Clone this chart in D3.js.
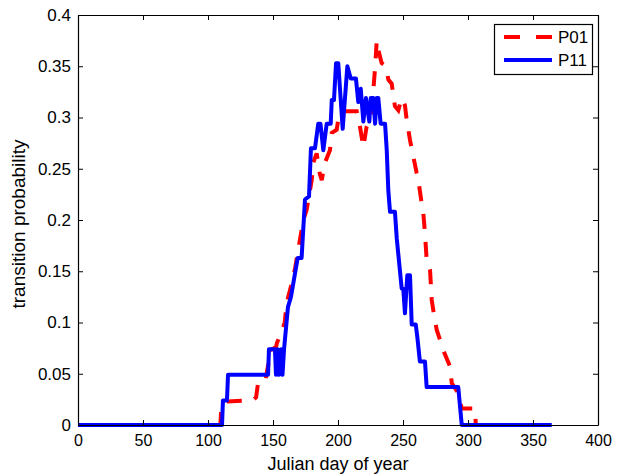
<!DOCTYPE html>
<html>
<head>
<meta charset="utf-8">
<script src="https://cdn.jsdelivr.net/npm/d3@7"></script>
<style>
  html, body { margin: 0; padding: 0; background: #fff; }
  svg { display: block; }
  text { font-family: "Liberation Sans", Arial, Helvetica, sans-serif; fill: #000; }
</style>
</head>
<body>
<svg id="chart" width="619" height="474"></svg>
<script>
// ---- data ----
const seriesNames = ["P01", "P11"];
const p01Days = [0, 109.5, 110, 113.6, 134.4, 137, 138.5, 143.9, 146.5, 148, 152.3, 153, 156.7, 159, 160.5, 164.4, 167, 173.3, 175.9, 179.8, 181, 183.6, 186, 187.5, 190, 193.8, 195.2, 199, 200.2, 202.8, 214.4, 216.9, 219.5, 222, 225.9, 227.2, 228.5, 229.8, 231, 233.6, 236.9, 238.7, 241.3, 243.8, 246.4, 249, 251.5, 252.8, 255.4, 257.9, 260.5, 261.8, 264.4, 265.6, 266.9, 268.2, 270.8, 272.1, 273.3, 275.9, 278.5, 281, 286.2, 287.5, 290, 292.5, 295.2, 305.4, 306, 364.4];
const p01Values = [0, 0, 0.012, 0.023, 0.024, 0.027, 0.041, 0.042, 0.06, 0.073, 0.076, 0.08, 0.091, 0.1, 0.119, 0.138, 0.153, 0.2, 0.21, 0.239, 0.256, 0.265, 0.245, 0.239, 0.256, 0.268, 0.285, 0.288, 0.298, 0.306, 0.306, 0.291, 0.271, 0.291, 0.304, 0.327, 0.348, 0.375, 0.366, 0.353, 0.35, 0.337, 0.333, 0.311, 0.307, 0.319, 0.312, 0.298, 0.278, 0.262, 0.246, 0.239, 0.216, 0.207, 0.187, 0.161, 0.151, 0.122, 0.112, 0.093, 0.083, 0.073, 0.057, 0.041, 0.036, 0.031, 0.016, 0.016, 0, 0];
const p11Days = [0, 110.8, 111.5, 114.6, 115.4, 146.2, 146.9, 151.5, 152.3, 153.5, 154.6, 156.2, 157.3, 158.5, 161.5, 163.8, 169, 172, 174.6, 177.7, 179.2, 182.3, 184.8, 186.5, 188.7, 191.3, 194.4, 195.2, 196.9, 198.5, 200.2, 203.6, 207.2, 209.8, 213.8, 215.6, 217.5, 219.5, 221.5, 224.1, 225.2, 227.2, 228.5, 229.8, 231, 232.8, 236.2, 237.5, 238.7, 240, 243.8, 245.2, 249, 250.2, 251.5, 253.3, 255.4, 256.7, 259.8, 261, 263, 266.9, 268.2, 292.5, 295.2, 364.4];
const p11Values = [0, 0, 0.024, 0.024, 0.049, 0.049, 0.074, 0.074, 0.049, 0.074, 0.049, 0.074, 0.049, 0.074, 0.115, 0.125, 0.163, 0.163, 0.22, 0.223, 0.27, 0.27, 0.294, 0.294, 0.268, 0.294, 0.294, 0.317, 0.317, 0.353, 0.353, 0.289, 0.35, 0.338, 0.338, 0.315, 0.328, 0.296, 0.319, 0.296, 0.319, 0.319, 0.294, 0.319, 0.319, 0.294, 0.294, 0.268, 0.229, 0.208, 0.208, 0.182, 0.133, 0.133, 0.109, 0.146, 0.146, 0.098, 0.098, 0.086, 0.062, 0.062, 0.037, 0.037, 0, 0];
const xTicks = [0, 50, 100, 150, 200, 250, 300, 350, 400];
const yTicks = [0, 0.05, 0.1, 0.15, 0.2, 0.25, 0.3, 0.35, 0.4];
const yTickLabels = ["0", "0.05", "0.1", "0.15", "0.2", "0.25", "0.3", "0.35", "0.4"];
const xLabel = "Julian day of year";
const yLabel = "transition probability";

// ---- layout ----
const L = 78, R = 598, T = 15, B = 425;
const svg = d3.select("#chart");
const x = d3.scaleLinear().domain([0, 400]).range([L, R]);
const y = d3.scaleLinear().domain([0, 0.4]).range([B, T]);

const p01 = p01Days.map((d, i) => [d, p01Values[i]]);
const p11 = p11Days.map((d, i) => [d, p11Values[i]]);
const line = d3.line().x(d => x(d[0])).y(d => y(d[1]));

// series
svg.append("path").datum(p01)
  .attr("d", line).attr("fill", "none")
  .attr("stroke", "#ff0000").attr("stroke-width", 4)
  .attr("stroke-dasharray", "15,13");
svg.append("path").datum(p11)
  .attr("d", line).attr("fill", "none")
  .attr("stroke", "#0000ff").attr("stroke-width", 4)
  .attr("stroke-linejoin", "round");

// axes
const gx = svg.append("g").attr("transform", `translate(0,${B})`)
  .call(d3.axisBottom(x).tickValues(xTicks).tickSizeInner(-5).tickSizeOuter(0).tickPadding(10).tickFormat(d3.format("d")));
const gxTop = svg.append("g").attr("transform", `translate(0,${T})`)
  .call(d3.axisTop(x).tickValues(xTicks).tickSizeInner(-5).tickSizeOuter(0).tickFormat(""));
const gy = svg.append("g").attr("transform", `translate(${L},0)`)
  .call(d3.axisLeft(y).tickValues(yTicks).tickSizeInner(-5).tickSizeOuter(0).tickPadding(7).tickFormat((d, i) => yTickLabels[i]));
const gyR = svg.append("g").attr("transform", `translate(${R},0)`)
  .call(d3.axisRight(y).tickValues(yTicks).tickSizeInner(-5).tickSizeOuter(0).tickFormat(""));

[gx, gxTop, gy, gyR].forEach(g => {
  g.select(".domain").attr("stroke", "#000").attr("stroke-width", 1.2);
  g.selectAll(".tick line").attr("stroke", "#000").attr("stroke-width", 1);
  g.selectAll("text").attr("font-family", "'Liberation Sans', Arial, sans-serif").attr("fill", "#000");
});
gx.selectAll("text").attr("font-size", "16px");
gy.selectAll("text").attr("font-size", "17px");

// axis labels
svg.append("text").attr("x", (L + R) / 2).attr("y", 470)
  .attr("text-anchor", "middle").attr("font-size", "18px").text(xLabel);
svg.append("text").attr("transform", `translate(25,224) rotate(-90)`)
  .attr("text-anchor", "middle").attr("font-size", "19px").text(yLabel);

// legend
const lg = svg.append("g");
lg.append("rect").attr("x", 494.5).attr("y", 24.5).attr("width", 98).attr("height", 50)
  .attr("fill", "#fff").attr("stroke", "#000").attr("stroke-width", 1.2);
const legendItems = [
  { name: seriesNames[0], color: "#ff0000", dash: "16,16", yy: 37 },
  { name: seriesNames[1], color: "#0000ff", dash: null, yy: 60 }
];
legendItems.forEach(it => {
  lg.append("line").attr("x1", 504).attr("x2", 552).attr("y1", it.yy).attr("y2", it.yy)
    .attr("stroke", it.color).attr("stroke-width", 4)
    .attr("stroke-dasharray", it.dash);
  lg.append("text").attr("x", 558).attr("y", it.yy + 6).attr("font-size", "17px").text(it.name);
});
</script>
</body>
</html>
